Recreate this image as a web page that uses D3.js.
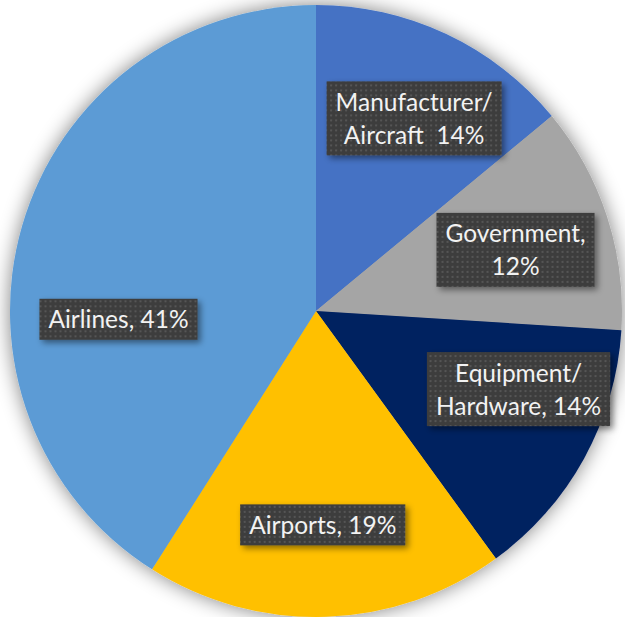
<!DOCTYPE html>
<html>
<head>
<meta charset="utf-8">
<script src="https://cdn.jsdelivr.net/npm/d3@7"></script>
<style>
  html, body { margin: 0; padding: 0; background: #ffffff; }
  svg { display: block; }
  text { white-space: pre; }
</style>
</head>
<body>
<svg id="chart" width="625" height="617"></svg>
<script>
// ---- data ----
const categories = ["Manufacturer/ Aircraft", "Government", "Equipment/ Hardware", "Airports", "Airlines"];
const values = [14, 12, 14, 19, 41];
const labelLines = [
  ["Manufacturer/", "Aircraft  14%"],
  ["Government,", "12%"],
  ["Equipment/", "Hardware, 14%"],
  ["Airports, 19%"],
  ["Airlines, 41%"]
];
const colors = ["#4472C4", "#A5A5A5", "#002060", "#FFC000", "#5B9BD5"];
// manual label nudges (layout, px) relative to arc centroid
const labelNudge = [[7, 1], [-4, 5], [15, -25], [0, 0], [8, 68]];

const W = 625, H = 617;
const cx = 316, cy = 311, R = 306;

const svg = d3.select("#chart");
const defs = svg.append("defs");

// pie soft shadow
const pf = defs.append("filter").attr("id", "pieShadow")
  .attr("x", "-20%").attr("y", "-20%").attr("width", "140%").attr("height", "140%");
pf.append("feGaussianBlur").attr("in", "SourceAlpha").attr("stdDeviation", 10).attr("result", "b");
pf.append("feComponentTransfer").attr("in", "b").attr("result", "bb")
  .append("feFuncA").attr("type", "linear").attr("slope", 0.5);
const pm = pf.append("feMerge");
pm.append("feMergeNode").attr("in", "bb");
pm.append("feMergeNode").attr("in", "SourceGraphic");

// label shadow
const lf = defs.append("filter").attr("id", "lblShadow")
  .attr("x", "-20%").attr("y", "-30%").attr("width", "140%").attr("height", "160%");
lf.append("feDropShadow").attr("dx", 3).attr("dy", 3).attr("stdDeviation", 3)
  .attr("flood-color", "#000").attr("flood-opacity", 0.45);

// dotted pattern
const pat = defs.append("pattern").attr("id", "dots")
  .attr("patternUnits", "userSpaceOnUse").attr("width", 5).attr("height", 5);
pat.append("rect").attr("width", 5).attr("height", 5).attr("fill", "#3d3d3d");
pat.append("rect").attr("x", 1).attr("y", 1).attr("width", 2).attr("height", 2).attr("fill", "#555555");

const pie = d3.pie().sort(null).value(d => d)
  .startAngle(0).endAngle(2 * Math.PI);
const arcs = pie(values);
const arc = d3.arc().innerRadius(0).outerRadius(R);
const labelArc = d3.arc().innerRadius(214).outerRadius(214);

const g = svg.append("g").attr("transform", `translate(${cx},${cy})`);
const pieG = g.append("g").attr("filter", "url(#pieShadow)");
pieG.selectAll("path").data(arcs).join("path")
  .attr("d", arc)
  .attr("fill", (d, i) => colors[i]);

const fontSize = 24.5;
const lineH = 33;
const padX = 9;

const lg = g.selectAll("g.lbl").data(arcs).join("g").attr("class", "lbl")
  .attr("transform", (d, i) => {
    const c = labelArc.centroid(d);
    return `translate(${c[0] + labelNudge[i][0]},${c[1] + labelNudge[i][1]})`;
  });

lg.each(function(d, i) {
  const el = d3.select(this);
  const lines = labelLines[i];
  const rect = el.append("rect").attr("filter", "url(#lblShadow)").attr("fill", "url(#dots)");
  const h = lines.length * lineH + 8;
  const t = el.append("text")
    .attr("font-family", "Lato, 'Open Sans', sans-serif")
    .attr("font-size", fontSize)
    .attr("fill", "#f2f2f2")
    .attr("text-anchor", "middle")
    .attr("xml:space", "preserve");
  let maxW = 0;
  lines.forEach((ln, j) => {
    const ts = t.append("tspan").attr("x", 0).attr("y", -h / 2 + 29.5 + j * lineH).text(ln);
    maxW = Math.max(maxW, ts.node().getComputedTextLength());
  });
  const w = maxW + 2 * padX;
  rect.attr("x", -w / 2).attr("y", -h / 2).attr("width", w).attr("height", h);
});
</script>
</body>
</html>
